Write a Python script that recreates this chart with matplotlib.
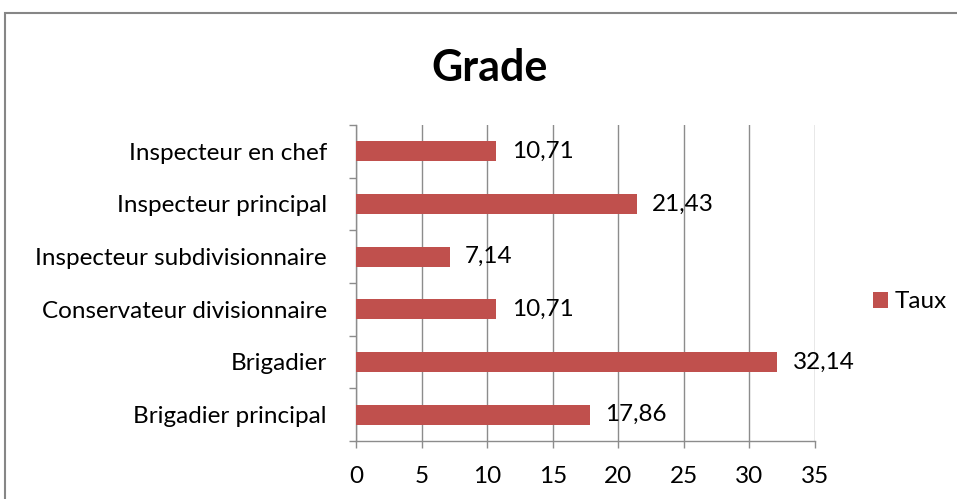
import matplotlib
matplotlib.use("Agg")
import matplotlib.pyplot as plt
from matplotlib.patches import Rectangle, Patch
import numpy as np

plt.rcParams['font.family'] = ['Lato', 'DejaVu Sans']

categories = ["Brigadier principal", "Brigadier", "Conservateur divisionnaire",
              "Inspecteur subdivisionnaire", "Inspecteur principal", "Inspecteur en chef"]
values = [17.86, 32.14, 10.71, 7.14, 21.43, 10.71]
labels = ["17,86", "32,14", "10,71", "7,14", "21,43", "10,71"]
series_name = "Taux"
title = "Grade"
xticks = [0, 5, 10, 15, 20, 25, 30, 35]

W, H = 957, 499
fig = plt.figure(figsize=(W / 100, H / 100), dpi=100)
fig.patch.set_facecolor("white")

# outer chart border
fig.patches.append(Rectangle((5 / W, -0.2), 1.2, (H - 13) / H + 0.2, transform=fig.transFigure,
                             fill=False, edgecolor="#868686", linewidth=1.5))

ax = fig.add_axes([356 / W, (H - 441) / H, (815 - 356) / W, (441 - 125) / H])
bar_color = "#C0504D"
grid_color = "#8C8C8C"
fs = 17.5
y = np.arange(len(categories))
ax.barh(y, values, height=0.38, color=bar_color, zorder=3)
for yi, v, lab in zip(y, values, labels):
    ax.annotate(lab, (v, yi), xytext=(11, 0), textcoords="offset points",
                va="center", ha="left", fontsize=fs, color="#000000", zorder=4)

ax.set_xlim(0, 35)
ax.set_ylim(-0.5, len(categories) - 0.5)
ax.set_xticks(xticks)
ax.set_xticklabels([str(t) for t in xticks], fontsize=fs)
ax.set_yticks(y)
ax.set_yticklabels(categories, fontsize=fs)
ax.set_yticks(np.arange(-0.5, len(categories)), minor=True)
ax.tick_params(axis="y", which="major", length=0, pad=21)
ax.tick_params(axis="y", which="minor", length=5, color=grid_color, width=1)
ax.tick_params(axis="x", which="major", length=5, color=grid_color, width=1, pad=13)
ax.xaxis.grid(True, color=grid_color, linewidth=1, zorder=0)
for s in ["top", "right"]:
    ax.spines[s].set_visible(False)
for s in ["left", "bottom"]:
    ax.spines[s].set_color(grid_color)
    ax.spines[s].set_linewidth(1)

fig.text(490 / W, 1 - 68 / H, title, ha="center", va="center", fontsize=31, fontweight="bold")

handles = [Patch(facecolor=bar_color, edgecolor="none", label=series_name)]
fig.legend(handles=handles, loc="center left", bbox_to_anchor=(856 / W, 1 - 302 / H),
           frameon=False, fontsize=fs, handlelength=0.6, handleheight=0.6, handletextpad=0.3,
           borderpad=0.2)

fig.savefig("out.png", dpi=100)
